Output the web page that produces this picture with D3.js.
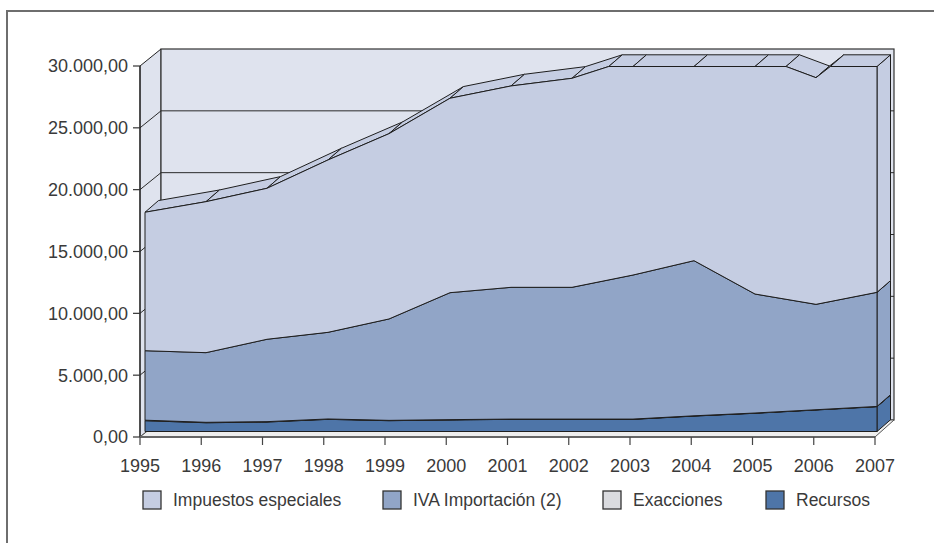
<!DOCTYPE html>
<html><head><meta charset="utf-8">
<script src="https://cdn.jsdelivr.net/npm/d3@7/dist/d3.min.js"></script>
<style>body{margin:0;background:#fff}svg{display:block}</style>
</head><body>
<svg id="c" width="934" height="543"></svg>
<script>
// ---- data ----
const years = [1995,1996,1997,1998,1999,2000,2001,2002,2003,2004,2005,2006,2007];
const recursos = [890,720,780,1000,890,950,1000,1000,1000,1270,1500,1770,2040];
const exacciones = [40,35,30,30,25,25,20,20,20,20,20,20,20];
const ivaImportacion = [5710,5725,6770,7120,8335,10435,10830,10830,11840,12750,9780,8660,9380];
const impuestosEspeciales = [11380,12410,12410,14170,15230,15980,16550,17180,17780,17460,19650,18630,21560];
const yTicks = [0,5000,10000,15000,20000,25000,30000];
const seriesNames = ["Impuestos especiales","IVA Importación (2)","Exacciones","Recursos"];
const seriesColors = ["#c5cde2","#91a5c7","#dadbdf","#4e75a8"];

// ---- layout ----
const svg = d3.select("#c");
const FONT = "'Liberation Sans', Arial, sans-serif";
const TXT = "#3a3a3a";
const MAX = 30000;

// box (axis) scales
const X0 = d3.scaleLinear().domain([1995,2007]).range([140,875]);
const Y0 = d3.scaleLinear().domain([0,MAX]).range([437,66]);
const XB = d3.scaleLinear().domain([1995,2007]).range([161,894]);
const YB = d3.scaleLinear().domain([0,MAX]).range([420,49]);
// area slab scales
const XA = d3.scaleLinear().domain([1995,2007]).range([145,877]);
const YA = d3.scaleLinear().domain([0,MAX]).range([431.5,66.5]);
const DX = 13.5, DY = -11.7;

// frame
svg.append("path").attr("d","M7,545 L7,11 L940,11").attr("fill","none").attr("stroke","#6e6e6e").attr("stroke-width",2);

// walls
const wallFill = "#dfe3ee";
const line = d3.line();
svg.append("path").attr("d", line([[X0(1995),Y0(0)],[X0(1995),Y0(MAX)],[XB(1995),YB(MAX)],[XB(1995),YB(0)]])+"Z")
  .attr("fill",wallFill).attr("stroke","#222").attr("stroke-width",1);
svg.append("rect").attr("x",XB(1995)).attr("y",YB(MAX)).attr("width",XB(2007)-XB(1995)).attr("height",YB(0)-YB(MAX))
  .attr("fill",wallFill).attr("stroke","#333").attr("stroke-width",1.2);
// floor
svg.append("path").attr("d", line([[X0(1995),Y0(0)],[X0(2007),Y0(0)],[XB(2007),YB(0)],[XB(1995),YB(0)]])+"Z")
  .attr("fill","#eeeeee").attr("stroke","#555").attr("stroke-width",1);
// gridlines
yTicks.filter(v=>v>0 && v<MAX).forEach(v=>{
  svg.append("path").attr("d", line([[X0(1995),Y0(v)],[XB(1995),YB(v)],[XB(2007),YB(v)]]))
    .attr("fill","none").attr("stroke","#2a2a2a").attr("stroke-width",1);
});

// ---- stacked areas ----
const rows = years.map((y,i)=>({year:y, rec:recursos[i], exa:exacciones[i], iva:ivaImportacion[i], imp:impuestosEspeciales[i]}));
const stack = d3.stack().keys(["rec","exa","iva","imp"]);
const layers = stack(rows);
const layerColor = {rec:seriesColors[3], exa:seriesColors[2], iva:seriesColors[1], imp:seriesColors[0]};

function refine(vals){
  const pts=[];
  for(let i=0;i<vals.length;i++){
    const v=vals[i];
    if(i>0){
      const p=vals[i-1];
      if((p-MAX)*(v-MAX)<0){
        const t=(MAX-p)/(v-p);
        pts.push({x:years[i-1]+t*(years[i]-years[i-1]), v:MAX});
      }
    }
    pts.push({x:years[i], v:Math.min(v,MAX)});
  }
  return pts;
}
const F = p=>[XA(p.x), YA(p.v)];
const B = p=>[XA(p.x)+DX, YA(p.v)+DY];
const g = svg.append("g");
layers.forEach(layer=>{
  const col = layerColor[layer.key];
  const lo = refine(layer.map(d=>d[0]));
  const hi = refine(layer.map(d=>d[1]));
  const st = {fill:col, stroke:"#1e1e1e", "stroke-width":1, "stroke-linejoin":"round"};
  const draw = pts=>{const p=g.append("path").attr("d",line(pts)+"Z"); Object.entries(st).forEach(([k,v])=>p.attr(k,v));};
  // right side face
  const l0 = lo[lo.length-1], h0 = hi[hi.length-1];
  draw([F(l0),F(h0),B(h0),B(l0)]);
  // top faces
  for(let i=0;i<hi.length-1;i++){
    draw([F(hi[i]),F(hi[i+1]),B(hi[i+1]),B(hi[i])]);
  }
  // front face
  draw(hi.map(F).concat(lo.slice().reverse().map(F)));
});

// ---- axes ----
const loc = d3.formatLocale({decimal:",", thousands:".", grouping:[3], currency:["",""]});
const fmt = loc.format(",.2f");
svg.append("line").attr("x1",X0(1995)).attr("x2",X0(1995)).attr("y1",Y0(0)).attr("y2",Y0(MAX)).attr("stroke","#222").attr("stroke-width",1.2);
svg.append("line").attr("x1",X0(1995)).attr("x2",X0(2007)).attr("y1",Y0(0)).attr("y2",Y0(0)).attr("stroke","#666").attr("stroke-width",2);
yTicks.forEach(v=>{
  svg.append("line").attr("x1",X0(1995)-7).attr("x2",X0(1995)).attr("y1",Y0(v)).attr("y2",Y0(v)).attr("stroke","#333").attr("stroke-width",1.2);
  svg.append("text").attr("x",X0(1995)-12).attr("y",Y0(v)).attr("dy","0.36em").attr("text-anchor","end")
    .attr("font-family",FONT).attr("font-size",18).attr("fill",TXT).text(fmt(v));
});
years.forEach(y=>{
  svg.append("line").attr("x1",X0(y)).attr("x2",X0(y)).attr("y1",Y0(0)).attr("y2",Y0(0)+8).attr("stroke","#444").attr("stroke-width",1.2);
  svg.append("text").attr("x",X0(y)).attr("y",466).attr("dy","0.36em").attr("text-anchor","middle")
    .attr("font-family",FONT).attr("font-size",18).attr("fill",TXT).text(y);
});

// ---- legend ----
const legendX = [143,383,603,766];
seriesNames.forEach((n,i)=>{
  svg.append("rect").attr("x",legendX[i]).attr("y",491).attr("width",18).attr("height",18)
    .attr("fill",seriesColors[i]).attr("stroke","#333").attr("stroke-width",1.3);
  svg.append("text").attr("x",legendX[i]+30).attr("y",500).attr("dy","0.36em")
    .attr("font-family",FONT).attr("font-size",17.5).attr("fill",TXT).text(n);
});
</script>
</body></html>
